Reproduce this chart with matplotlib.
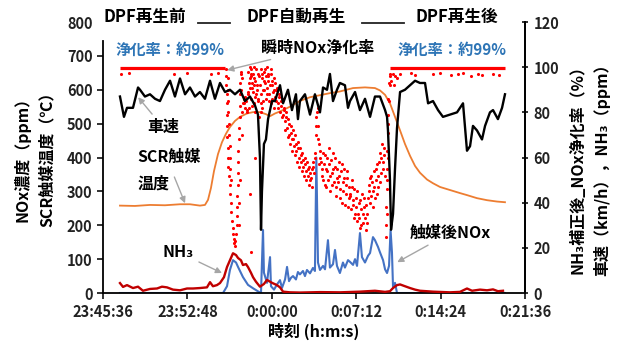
import matplotlib
matplotlib.use("Agg")
import matplotlib.pyplot as plt
from matplotlib.lines import Line2D

plt.rcParams['font.family'] = ['Noto Sans CJK JP', 'DejaVu Sans']
plt.rcParams['font.weight'] = 'bold'
plt.rcParams['axes.labelweight'] = 'bold'

# time axis: minutes after 23:45:36
tick_pos = [0, 7.2, 14.4, 21.6, 28.8, 36]
tick_labels = ["23:45:36", "23:52:48", "0:00:00", "0:07:12", "0:14:24", "0:21:36"]

# vehicle speed (km/h, right axis)
speed_t = [1.45, 1.79, 2.05, 2.56, 2.99, 3.16, 3.58, 4.01, 4.44, 4.86, 5.29, 5.72, 6.14, 6.57,
           7.0, 7.42, 7.85, 8.27, 8.70, 9.13, 9.55, 9.98, 10.41, 10.83, 11.26, 11.69, 12.11,
           12.54, 12.97, 13.22, 13.39, 13.48, 13.56, 13.73, 13.9, 14.08, 14.42, 14.67, 15.10,
           15.36, 15.78, 16.12, 16.46, 16.63, 16.80, 17.23, 17.66, 18.08, 18.51, 18.77, 19.11,
           19.36, 19.62, 19.96, 20.21, 20.64, 20.90, 21.07, 21.50, 21.92, 22.35, 22.78, 23.20,
           23.63, 24.06, 24.23, 24.31, 24.48, 24.57, 24.74, 24.91, 25.08, 25.34, 25.76, 26.19,
           26.62, 27.04, 27.47, 27.73, 28.15, 28.58, 29.0, 29.60, 30.20, 30.71, 31.05, 31.31,
           31.56, 31.90, 32.33, 32.59, 33.01, 33.27, 33.69, 34.04, 34.29]
speed_v = [87, 78, 82, 82, 91, 90, 87, 88, 86, 85, 90, 94, 87, 95,
           88, 91, 87, 89, 86, 94, 86, 93, 89, 90, 88, 90, 85,
           87, 83, 79, 60, 28, 45, 66, 68, 77, 85, 85, 92,
           84, 90, 81, 88, 77, 85, 88, 79, 88, 80, 91, 90,
           97, 85, 90, 93, 92, 82, 85, 89, 81, 86, 78, 87,
           87, 81, 78, 72, 50, 28, 35, 55, 73, 89, 90, 92,
           94, 93, 93, 84, 85, 81, 78, 79, 80, 84, 63, 65,
           74, 72, 68, 74, 80, 81, 77, 82, 88]

# SCR catalyst temperature (deg C, left axis)
temp_t = [1.45, 2.73, 4.01, 5.29, 6.57, 7.42, 8.27, 8.70, 8.96, 9.21, 9.47, 9.81, 10.15, 10.49,
          10.83, 11.26, 11.69, 12.28, 12.80, 13.39, 13.90, 14.25, 14.67, 15.10, 15.95, 16.80,
          17.66, 18.51, 19.36, 20.21, 21.33, 22.35, 23.20, 23.63, 24.06, 24.48, 24.91, 25.34,
          25.76, 26.19, 26.62, 27.04, 27.64, 28.15, 28.75, 29.60, 30.45, 31.05, 31.90, 32.76,
          33.61, 34.29]
temp_v = [258, 257, 260, 259, 262, 262, 258, 260, 275, 310, 360, 410, 445, 470,
          490, 508, 520, 530, 534, 534, 528, 522, 530, 536, 550, 567,
          578, 584, 590, 595, 605, 607, 605, 598, 585, 560, 520, 480,
          440, 405, 375, 355, 335, 324, 313, 304, 295, 289, 280, 274,
          270, 268]

# NOx after catalyst (ppm, left axis)
nox_t = [1.45, 10.24, 10.58, 10.83, 11.09, 11.35, 11.52, 11.94, 12.37, 12.8, 13.22, 13.48, 13.56,
         13.65, 13.73, 13.99, 14.25, 14.33, 14.59, 14.84, 15.10, 15.27, 15.53, 15.70, 15.87,
         16.04, 16.21, 16.46, 16.63, 16.80, 17.06, 17.23, 17.40, 17.66, 17.91, 18.08, 18.2,
         18.34, 18.51, 18.77, 18.94, 19.19, 19.36, 19.62, 19.79, 19.96, 20.21, 20.47, 20.64,
         20.90, 21.07, 21.33, 21.50, 21.67, 21.92, 22.09, 22.35, 22.61, 22.78, 23.03, 23.20,
         23.46, 23.63, 23.89, 24.06, 24.23, 24.40, 24.53, 24.65, 24.74, 24.91, 25.08, 34.29]
nox_v = [0, 0, 20, 68, 97, 90, 77, 47, 24, 14, 5, 0, 90,
         186, 60, 30, 106, 20, 10, 25, 38, 15, 40, 77, 35,
         45, 50, 40, 62, 55, 65, 50, 68, 58, 74, 65, 400,
         90, 68, 80, 70, 156, 75, 85, 127, 80, 59, 90, 75,
         97, 92, 83, 100, 80, 177, 106, 90, 110, 118, 165, 156,
         136, 120, 97, 70, 59, 80, 186, 120, 18, 30, 0, 0]

# NH3 (ppm, right axis)
nh3_t = [1.45, 1.71, 2.05, 2.56, 2.99, 3.41, 4.01, 4.61, 5.03, 5.46, 5.97, 6.57, 7.17, 7.68,
         8.27, 8.87, 9.13, 9.38, 9.72, 9.98, 10.32, 10.58, 10.83, 11.09, 11.35, 11.52, 11.77,
         11.94, 12.20, 12.37, 12.62, 12.80, 13.05, 13.39, 13.73, 13.99, 14.42, 14.84, 15.10,
         15.36, 15.95, 16.80, 18.51, 20.21, 21.92, 23.20, 24.06, 24.48, 24.74, 25.08, 25.34,
         25.76, 26.19, 26.62, 27.04, 28.15, 29.60, 30.45, 31.05, 31.48, 32.16, 32.76, 33.27,
         33.69, 34.12]
nh3_v = [4.4, 2.7, 3.5, 2.2, 2.8, 1.0, 1.8, 2.0, 2.8, 2.5, 1.5, 1.2, 2.0, 2.0,
         2.2, 2.5, 4.8, 3.0, 3.5, 4.4, 7.0, 11.5, 14.5, 17.6, 16.8, 15.5, 14.5,
         12.4, 12.8, 11.5, 9.0, 7.0, 5.0, 2.8, 4.0, 5.8, 4.5, 3.5, 2.5,
         0.6, 0.3, 0.2, 0.4, 0.3, 0.6, 1.0, 0.5, 0.8, 2.2, 3.5, 3.8,
         3.0, 2.2, 1.5, 1.0, 0.6, 0.3, 0.5, 2.0, 1.0, 1.5, 1.2, 1.6,
         0.8, 1.0]

# instantaneous NOx conversion (%, right axis): steady runs
rate_pre_t = [1.45, 10.45]
rate_pre_v = [99.5, 99.5]
rate_post_t = [24.5, 34.3]
rate_post_v = [99.5, 99.5]

# small drops during steady runs
drop_t = [1.54, 2.2, 6.1, 7.2, 9.2, 9.8, 24.6, 24.7, 24.8, 24.95, 25.1, 25.35, 26.25, 26.65,
          28.15, 28.75, 29.65, 30.25, 30.75, 31.35, 31.95, 32.35, 33.25, 33.75]
drop_v = [97, 97.5, 97, 97.5, 97, 97.5, 94, 97, 92, 96, 95, 97, 97.5, 96.5,
          97, 97.5, 96.5, 97, 97.5, 96, 97, 96.5, 97, 96.5]

# drop and recovery at the start of regeneration
vdip_t = [10.5, 10.5, 10.5, 10.55, 10.55, 10.6, 10.6, 10.6, 10.65, 10.65, 10.7, 10.75, 10.8,
          10.85, 10.9, 10.95, 11.0, 11.05, 11.1, 11.15, 11.2, 11.25, 11.3, 11.35, 11.4, 11.4,
          11.45, 11.45, 11.5, 11.5, 11.55, 11.55, 11.6, 11.6, 11.65, 11.65, 11.7, 11.7, 11.75,
          10.7, 10.7, 10.7, 10.7, 10.75, 10.75, 10.8, 10.8, 10.85, 10.9, 11.6, 11.62, 11.65,
          11.8, 11.85, 11.9, 11.95, 11.8, 11.9]
vdip_v = [99, 96, 92, 88, 84, 79, 74, 69, 64, 60, 56, 52, 48,
          44, 40, 36, 32, 29, 26, 24, 22, 21, 23, 26, 30, 34,
          38, 43, 48, 53, 58, 63, 68, 73, 78, 83, 88, 93, 97,
          95, 90, 85, 80, 75, 70, 65, 60, 55, 50, 30, 40, 50,
          90, 80, 70, 84, 98, 95]

# scattered conversion during regeneration
regen_t = [12.0, 12.1, 12.2, 12.3, 12.4, 12.4, 12.5, 12.5, 12.6, 12.6, 12.7, 12.7, 12.8, 12.8,
           12.9, 12.9, 13.0, 13.0, 13.1, 13.2, 13.2, 13.3, 13.4, 13.5, 13.5, 13.6, 13.6, 13.7,
           13.7, 13.8, 13.9, 13.9, 14.0, 14.0, 14.1, 14.2, 14.3, 14.3, 14.4, 14.5, 14.6, 14.6,
           14.7, 14.8, 14.9, 15.0, 15.1, 15.2, 15.3, 15.4, 12.5, 12.6, 13.0,
           12.05, 12.15, 12.25, 12.35, 12.45, 12.55, 12.65, 12.75, 12.85, 12.95, 13.05, 13.15,
           13.25, 13.35, 13.45, 13.55, 13.65, 13.75, 13.85, 13.95, 14.05, 14.15, 14.25, 14.35,
           14.45, 14.55, 14.65, 14.75, 14.85, 14.95, 15.05, 15.15, 15.25, 15.35, 12.45, 12.65,
           12.85, 13.05, 13.45, 13.65, 14.05, 14.45,
           15.5, 15.6, 15.7, 15.8, 15.9, 16.0, 16.1, 16.2, 16.3, 16.4, 16.5, 16.6, 16.7, 16.8,
           16.9, 17.0, 17.1, 17.2, 17.3, 17.4, 17.5, 17.6, 17.7, 17.8, 17.9, 18.0, 18.1, 18.2,
           18.2, 18.3, 18.3, 18.4, 18.5,
           15.45, 15.55, 15.65, 15.75, 15.85, 15.95, 16.05, 16.15, 16.25, 16.35, 16.45, 16.55,
           16.65, 16.75, 16.85, 16.95, 17.05, 17.15, 17.25, 17.35, 17.45, 17.55, 17.65, 17.75,
           17.85, 17.95, 18.05, 18.15, 18.25, 18.35, 18.45,
           18.6, 18.7, 18.8, 18.9, 19.0, 19.1, 19.2, 19.3, 19.4, 19.5, 19.6, 19.7, 19.8, 19.9,
           20.0, 20.1, 20.2, 20.3, 20.4, 20.5, 20.6, 20.7, 20.8, 20.9, 21.0,
           21.1, 21.2, 21.3, 21.4, 21.5, 21.6, 21.7, 21.8, 21.9, 22.0, 22.1, 22.2, 22.3, 22.4,
           22.5, 22.6, 22.7, 22.8, 22.9, 23.0, 23.1, 23.2, 23.3, 23.4, 23.5, 23.6, 23.7, 23.8,
           23.9, 24.0,
           18.55, 18.65, 18.75, 18.85, 18.95, 19.05, 19.15, 19.25, 19.35, 19.45, 19.55, 19.65,
           19.75, 19.85, 19.95, 20.05, 20.15, 20.25, 20.35, 20.45, 20.55, 20.65, 20.75, 20.85,
           20.95, 21.05, 21.15, 21.25, 21.35, 21.45, 21.55, 21.65, 21.75, 21.85, 21.95, 22.05,
           22.15, 22.25, 22.35, 22.45, 22.55, 22.65, 22.75, 22.85, 22.95, 23.05, 23.15, 23.25,
           23.35, 23.45, 23.55, 23.65, 23.75, 23.85, 23.95, 24.05]
regen_v = [86, 82, 85, 80, 88, 98, 95, 91, 99, 86, 93, 83, 97, 89,
           100, 84, 94, 80, 90, 97, 85, 78, 92, 99, 88, 95, 82, 98,
           90, 93, 96, 86, 100, 91, 94, 88, 97, 84, 92, 89, 95, 82,
           87, 90, 84, 88, 80, 85, 78, 82, 44, 18, 60,
           84, 87, 81, 89, 93, 100, 96, 91, 95, 87, 99, 92,
           86, 96, 84, 97, 90, 94, 99, 88, 96, 85, 92, 99,
           86, 90, 93, 85, 91, 82, 87, 83, 86, 79, 82, 97,
           92, 88, 80, 85, 97, 94,
           76, 80, 73, 77, 70, 74, 68, 72, 65, 70, 63, 67, 60, 64,
           58, 62, 56, 60, 54, 58, 52, 56, 50, 55, 58, 53, 62, 70,
           78, 74, 82, 66, 60,
           81, 72, 78, 69, 75, 66, 71, 63, 68, 61, 66, 58,
           64, 56, 61, 54, 59, 52, 57, 50, 55, 48, 53, 51,
           47, 56, 60, 74, 80, 68, 57,
           58, 52, 62, 48, 55, 60, 50, 57, 45, 53, 62, 49, 56, 43,
           51, 58, 46, 54, 40, 49, 55, 44, 51, 38, 47,
           43, 50, 39, 46, 35, 42, 32, 40, 29, 37, 44, 31, 38, 28,
           35, 42, 48, 40, 52, 45, 54, 42, 50, 57, 47, 62, 53, 66,
           58, 64,
           63, 55, 50, 57, 61, 47, 54, 64, 52, 59, 48, 55,
           60, 47, 55, 49, 52, 42, 57, 45, 51, 39, 48, 54,
           42, 44, 37, 47, 41, 33, 38, 45, 35, 33, 41, 30,
           35, 42, 33, 39, 31, 45, 51, 43, 49, 38, 47, 55,
           44, 52, 58, 49, 60, 55, 61, 52]

# recovery at the end of regeneration
rise_t = [24.1, 24.15, 24.2, 24.2, 24.25, 24.3, 24.3, 24.35, 24.4, 24.45,
          24.1, 24.2, 24.25, 24.3, 24.35, 24.4, 24.45, 24.5]
rise_v = [30, 38, 46, 55, 63, 71, 79, 86, 93, 97,
          25, 35, 50, 60, 75, 85, 92, 96]

fig = plt.figure(figsize=(6.26, 3.45), dpi=100)
ax = fig.add_axes([0.1645, 0.1507, 0.6742, 0.7855])
ax2 = ax.twinx()

ax.plot(temp_t, temp_v, color='#ED7D31', lw=1.3)
ax.plot(nox_t, nox_v, color='#4472C4', lw=1.5)

red = '#FF0000'
ax2.plot(rate_pre_t, rate_pre_v, color=red, lw=2.3, solid_capstyle='butt')
ax2.plot(rate_post_t, rate_post_v, color=red, lw=2.3, solid_capstyle='butt')
for dt, dv in [(drop_t, drop_v), (vdip_t, vdip_v), (regen_t, regen_v), (rise_t, rise_v)]:
    ax2.scatter(dt, dv, s=5, color=red, linewidths=0)
ax2.plot(speed_t, speed_v, color='black', lw=1.7)
ax2.plot(nh3_t, nh3_v, color='#C00000', lw=1.7)

ax.set_xlim(0, 36)
ax.set_ylim(0, 800)
ax2.set_ylim(0, 120)
ax.set_xticks(tick_pos)
ax.set_xticklabels(tick_labels)
ax.set_yticks(range(0, 801, 100))
ax2.set_yticks(range(0, 121, 20))

for a in (ax, ax2):
    a.spines['top'].set_visible(False)
    a.spines['left'].set_linewidth(1.3)
    a.spines['right'].set_linewidth(1.3)
    a.spines['bottom'].set_linewidth(1.3)
ax2.spines['left'].set_visible(False)
ax2.spines['bottom'].set_visible(False)
ax.spines['left'].set_bounds(0, 745)
ax.tick_params(axis='both', labelsize=10.5, width=1.3, length=4, colors='#222222')
ax.tick_params(axis='x', pad=4)
ax2.tick_params(axis='y', labelsize=10.5, width=1.3, length=5, direction='inout', colors='#222222')
ax.yaxis.get_major_ticks()[-1].tick1line.set_visible(False)

ax.set_xlabel("時刻 (h:m:s)", fontsize=11.5, labelpad=2)

fig.text(0.035, 0.55, "NOx濃度（ppm）", rotation=90, ha='center', va='center', fontsize=11.5)
fig.text(0.075, 0.55, "SCR触媒温度（℃）", rotation=90, ha='center', va='center', fontsize=11.5)
fig.text(0.922, 0.52, "NH₃補正後_NOx浄化率（%）", rotation=90, ha='center', va='center', fontsize=11.5)
fig.text(0.962, 0.52, "車速（km/h），NH₃（ppm）", rotation=90, ha='center', va='center', fontsize=11.5)

# phase labels along the top
fig.text(0.232, 0.950, "DPF再生前", ha='center', va='center', fontsize=12)
fig.text(0.473, 0.950, "DPF自動再生", ha='center', va='center', fontsize=12)
fig.text(0.730, 0.950, "DPF再生後", ha='center', va='center', fontsize=12)
for x0, x1 in [(0.316, 0.368), (0.578, 0.645)]:
    fig.add_artist(Line2D([x0, x1], [0.932, 0.932], color='#222222', lw=1.3))

blue = '#2E75B6'
ax.text(5.7, 717, "浄化率：約99%", color=blue, ha='center', va='center', fontsize=11)
ax.text(29.8, 717, "浄化率：約99%", color=blue, ha='center', va='center', fontsize=11)

arrow = dict(arrowstyle='-|>', color='#A6A6A6', lw=1.0, mutation_scale=9, shrinkA=2, shrinkB=0)
ax.annotate("瞬時NOx浄化率", xy=(10.6, 658), xytext=(18.3, 723), ha='center', va='center',
            fontsize=11.5, arrowprops=arrow)
ax.annotate("車速", xy=(3.0, 578), xytext=(5.1, 490), ha='center', va='center',
            fontsize=11.5, arrowprops=arrow)
ax.text(5.6, 401, "SCR触媒", ha='center', va='center', fontsize=11.5)
ax.text(4.35, 322, "温度", ha='center', va='center', fontsize=11.5)
ax.annotate("", xy=(7.0, 265), xytext=(6.0, 350), arrowprops=arrow)
ax.annotate("NH₃", xy=(10.15, 59), xytext=(6.4, 121), ha='center', va='center',
            fontsize=11.5, arrowprops=arrow)
ax.annotate("触媒後NOx", xy=(25.1, 91), xytext=(29.6, 177), ha='center', va='center',
            fontsize=11.5, arrowprops=arrow)

fig.savefig("out.png", dpi=100)
